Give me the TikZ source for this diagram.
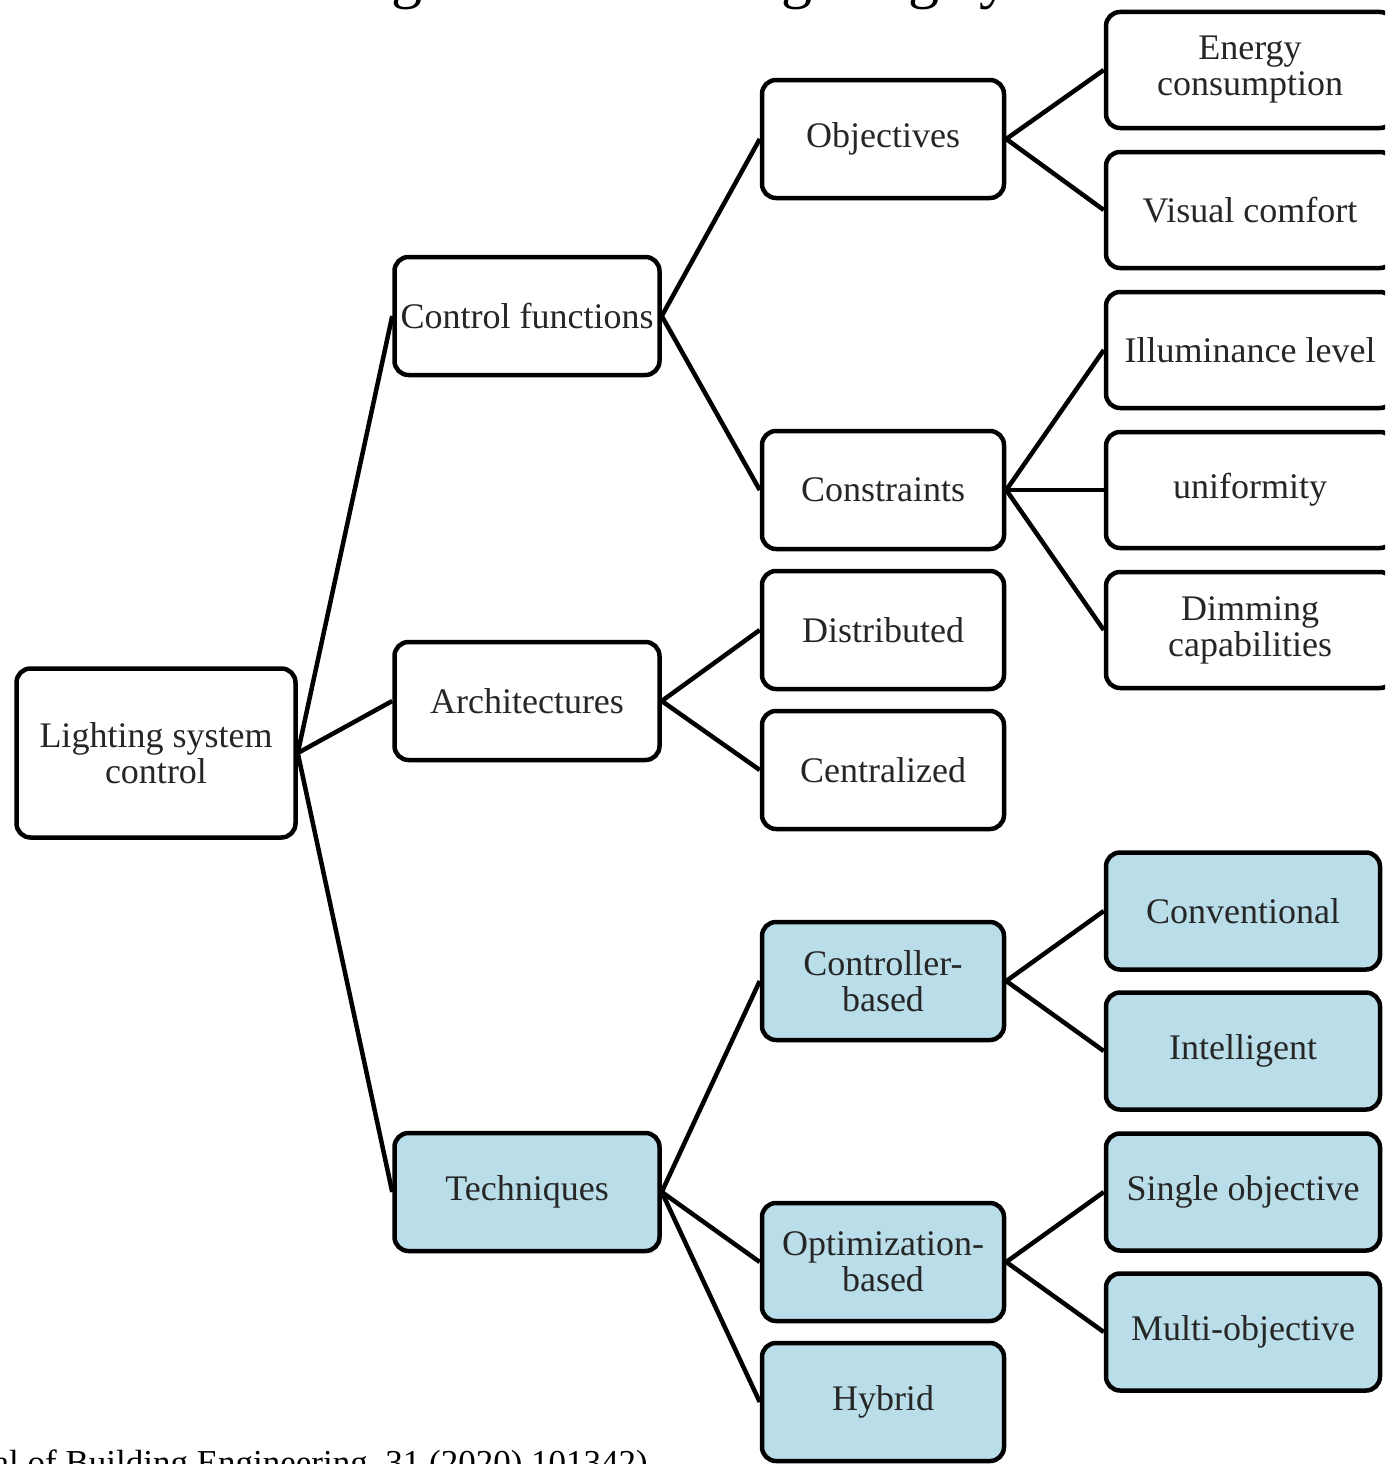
\documentclass[tikz,border=0pt]{standalone}
\usepackage{fontspec}
\setmainfont{Liberation Serif}
\definecolor{boxblue}{RGB}{186,222,233}
\definecolor{txt}{RGB}{38,38,38}
\begin{document}
\begin{tikzpicture}[x=1pt,y=-1pt,
  nb/.style={draw=black, line width=4.5pt, rounded corners=14pt, fill=white, text=txt,
    align=center, font=\fontsize{36}{36}\selectfont, inner sep=0pt},
  blue/.style={fill=boxblue},
  c1/.style={minimum width=279pt, minimum height=169pt},
  c2/.style={minimum width=265pt, minimum height=118pt},
  c3/.style={minimum width=242pt, minimum height=118pt},
  c4/.style={minimum width=288pt, minimum height=116pt},
  c4b/.style={minimum width=274pt, minimum height=117pt},
  link/.style={draw=black, line width=4.5pt}]
\useasboundingbox (0,0) rectangle (1385,1464);
\clip (0,0) rectangle (1385,1464);
\fill[white] (0,0) rectangle (1385,1464);

% partly visible title and source line
\node[anchor=base west, inner sep=0pt, font=\fontsize{62}{62}\selectfont] (title) at (278,-3) {Categorization of Lighting system control};
\node[anchor=base east, inner sep=0pt, font=\fontsize{35}{35}\selectfont] (source) at (648,1474) {(Journal of Building Engineering, 31 (2020) 101342)};

% nodes
\node[nb,c1] (root) at (156,753) {Lighting system\\control};
\node[nb,c2] (cf) at (527,316) {Control functions};
\node[nb,c2] (arch) at (527,701) {Architectures};
\node[nb,c2,blue] (tech) at (527,1192) {Techniques};

\node[nb,c3] (obj) at (883,139) {Objectives};
\node[nb,c3] (cons) at (883,490) {Constraints};
\node[nb,c3] (dist) at (883,630) {Distributed};
\node[nb,c3] (cent) at (883,770) {Centralized};
\node[nb,c3,blue] (ctrl) at (883,981) {Controller-\\based};
\node[nb,c3,blue] (opt) at (883,1262) {Optimization-\\based};
\node[nb,c3,blue] (hyb) at (883,1402) {Hybrid};

\node[nb,c4] (energy) at (1250,70) {Energy\\consumption};
\node[nb,c4] (visual) at (1250,210) {Visual comfort};
\node[nb,c4] (illum) at (1250,350) {Illuminance level};
\node[nb,c4] (unif) at (1250,490) {uniformity};
\node[nb,c4] (dimm) at (1250,630) {Dimming\\capabilities};

\node[nb,c4b,blue] (conv) at (1243,911) {Conventional};
\node[nb,c4b,blue] (intel) at (1243,1051) {Intelligent};
\node[nb,c4b,blue] (single) at (1243,1192) {Single objective};
\node[nb,c4b,blue] (multi) at (1243,1332) {Multi-objective};

% connectors
\draw[link] (root.east) -- (cf.west);
\draw[link] (root.east) -- (arch.west);
\draw[link] (root.east) -- (tech.west);
\draw[link] (cf.east) -- (obj.west);
\draw[link] (cf.east) -- (cons.west);
\draw[link] (obj.east) -- (energy.west);
\draw[link] (obj.east) -- (visual.west);
\draw[link] (cons.east) -- (illum.west);
\draw[link] (cons.east) -- (unif.west);
\draw[link] (cons.east) -- (dimm.west);
\draw[link] (arch.east) -- (dist.west);
\draw[link] (arch.east) -- (cent.west);
\draw[link] (tech.east) -- (ctrl.west);
\draw[link] (tech.east) -- (opt.west);
\draw[link] (tech.east) -- (hyb.west);
\draw[link] (ctrl.east) -- (conv.west);
\draw[link] (ctrl.east) -- (intel.west);
\draw[link] (opt.east) -- (single.west);
\draw[link] (opt.east) -- (multi.west);
\end{tikzpicture}
\end{document}
